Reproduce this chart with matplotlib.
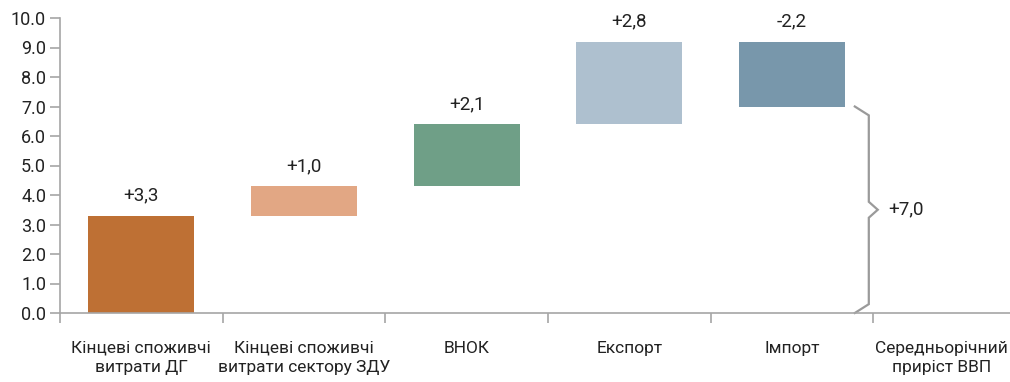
import matplotlib
matplotlib.use("Agg")
import matplotlib.pyplot as plt
import numpy as np

categories = ["Кінцеві споживчі\nвитрати ДГ", "Кінцеві споживчі\nвитрати сектору ЗДУ",
              "ВНОК", "Експорт", "Імпорт", "Середньорічний\nприріст ВВП"]
changes = [3.3, 1.0, 2.1, 2.8, -2.2]
change_labels = ["+3,3", "+1,0", "+2,1", "+2,8", "-2,2"]
total = 7.0
total_label = "+7,0"
colors = ["#BE7034", "#E2A784", "#6F9F87", "#AEC0CF", "#7897AB"]
yticks = [0, 1, 2, 3, 4, 5, 6, 7, 8, 9, 10]

plt.rcParams['font.family'] = ['Roboto', 'DejaVu Sans']

fig = plt.figure(figsize=(10.10, 3.82), dpi=100)
ax = fig.add_axes([60/1010, 69/382, 950/1010, 295/382])

txtc = "#222222"
axc = "#A6A6A6"
cum = np.cumsum([0] + changes)
for i, ch in enumerate(changes):
    bottom = min(cum[i], cum[i+1])
    top = max(cum[i], cum[i+1])
    ax.bar(i, top - bottom, bottom=bottom, width=0.65, color=colors[i])
    ax.text(i, top + 0.37, change_labels[i], ha="center", va="bottom", fontsize=13.5, color=txtc)

# brace
bx = 4.386
w = 0.086
pts_x = [bx, bx + w, bx + w, bx + w + 0.055, bx + w, bx + w, bx]
pts_y = [total, total - 0.3, total/2 + 0.27, total/2, total/2 - 0.27, 0.3, 0.0]
ax.plot(pts_x, pts_y, color="#9A9A9A", lw=1.6, clip_on=False, solid_joinstyle="miter")
ax.text(4.59, total/2, total_label, ha="left", va="center", fontsize=13.5, color=txtc)

ax.set_xlim(-0.5, 5.34)
ax.set_ylim(0, 10)
ax.set_yticks(yticks)
ax.set_yticklabels([f"{v:.1f}" for v in yticks], fontsize=13, color=txtc)
ax.set_xticks(np.arange(-0.5, 5.0, 1.0))
ax.set_xticklabels([])
label_pos = list(np.arange(len(categories), dtype=float))
label_pos[-1] = 4.92
ax.set_xticks(label_pos, minor=True)
ax.set_xticklabels(categories, minor=True, fontsize=12.5, color=txtc, linespacing=1.35)
ax.tick_params(axis="x", which="minor", length=0, pad=20)
ax.tick_params(axis="x", which="major", length=7, color=axc, width=1.2)
ax.tick_params(axis="y", length=7, color=axc, width=1.2, pad=3)
for s in ["top", "right"]:
    ax.spines[s].set_visible(False)
for s in ["left", "bottom"]:
    ax.spines[s].set_color(axc)
    ax.spines[s].set_linewidth(1.2)

fig.savefig("out.png", dpi=100)
